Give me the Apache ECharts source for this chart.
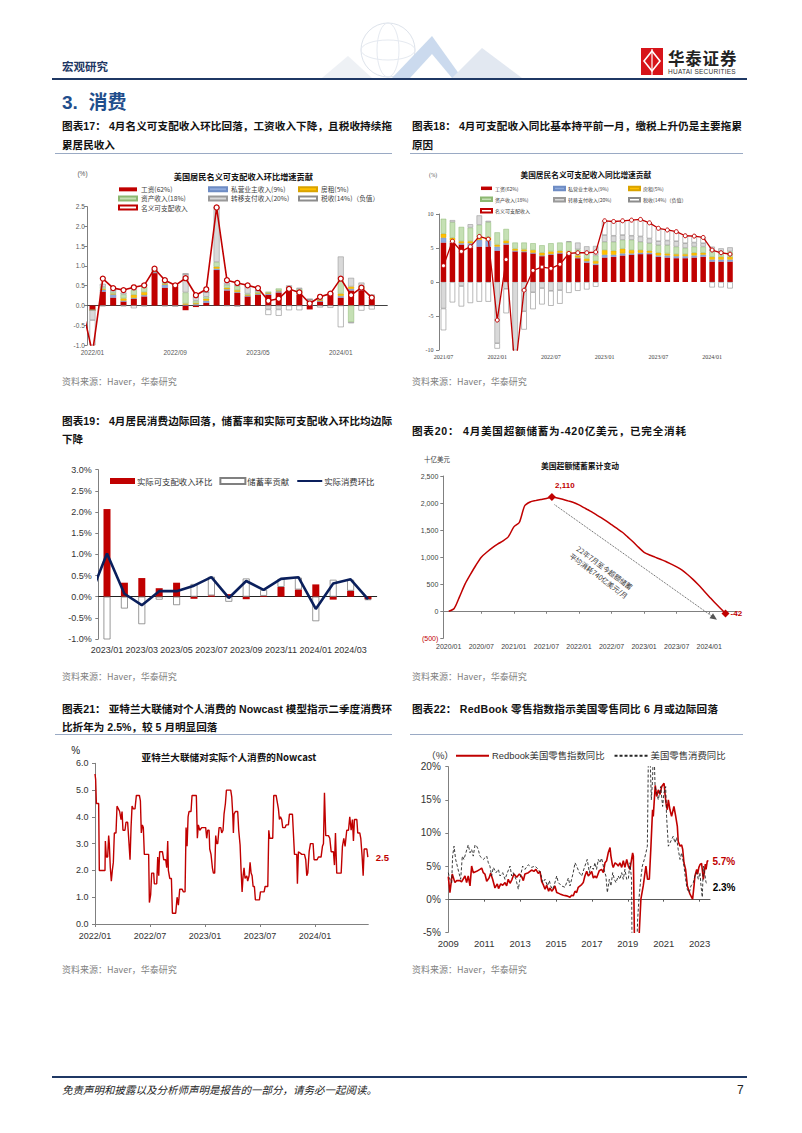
<!DOCTYPE html>
<html lang="zh-CN">
<head>
<meta charset="utf-8">
<title>消费</title>
<script src="https://cdn.jsdelivr.net/npm/echarts@6.0.0/dist/echarts.min.js"></script>
<style>
html,body{margin:0;padding:0;background:#fff;}
#page{position:relative;width:802px;height:1133px;overflow:hidden;background:#fff;}
#chart{position:absolute;left:0;top:0;width:802px;height:1133px;}
.tx{position:absolute;white-space:nowrap;transform:translateY(-50%);line-height:1.25;font-family:"Liberation Sans","Noto Sans CJK SC",sans-serif;}
.cap{font-size:10.6px;font-weight:700;color:#111;}
.src{font-size:9px;color:#7f7f7f;font-family:"Noto Sans CJK SC",sans-serif;}
.rule{position:absolute;height:0;border-top:1px solid #9AAAC4;}
</style>
</head>
<body>
<div id="page">
  <svg style="position:absolute;left:0;top:0" width="802" height="90">
    <g opacity="0.6">
      <circle cx="388" cy="50" r="27" fill="none" stroke="#c8d1de" stroke-width="1"/>
      <ellipse cx="388" cy="50" rx="27" ry="10" fill="none" stroke="#d6dde8"/>
      <ellipse cx="388" cy="50" rx="11" ry="27" fill="none" stroke="#d6dde8"/>
      <polygon points="322,78 348,56 372,78" fill="#e3e8f0"/>
      <polygon points="392,78 432,36 462,78" fill="#a9c3e3"/>
      <polygon points="410,78 432,54 452,78" fill="#ffffff"/>
      <polygon points="452,78 482,48 522,78" fill="#cfd9e8"/>
    </g>
    <rect x="641" y="48" width="22" height="27" fill="#d7141a"/>
    <polygon points="652,51 660,61 652,71 644,61" fill="none" stroke="#fff" stroke-width="1.6"/>
    <line x1="652" y1="49" x2="652" y2="75" stroke="#fff" stroke-width="1.2"/>
  </svg>
  <div class="tx" style="left:62px;top:66px;font-size:11.5px;font-weight:700;color:#1F3864;font-family:'Noto Sans CJK SC',sans-serif;">宏观研究</div>
  <div class="tx" style="left:668px;top:57.5px;font-size:16.5px;line-height:1;font-weight:700;color:#222;letter-spacing:0.8px;font-family:'Noto Sans CJK SC',sans-serif;">华泰证券</div>
  <div class="tx" style="left:668px;top:71.5px;font-size:6.5px;line-height:1;color:#333;letter-spacing:0.25px;">HUATAI SECURITIES</div>
  <div style="position:absolute;left:52px;top:78px;width:695px;height:2px;background:#1F3864;"></div>
  <div class="tx" style="left:62px;top:103px;font-size:19px;font-weight:700;color:#1F4E8C;">3.&nbsp; 消费</div>

  <div class="tx cap" data-fit="330" style="left:62px;top:127px;">图表17： 4月名义可支配收入环比回落，工资收入下降，且税收持续拖</div>
  <div class="tx cap" style="left:62px;top:146px;">累居民收入</div>
  <div class="tx cap" data-fit="330" style="left:412px;top:127px;">图表18： 4月可支配收入同比基本持平前一月，缴税上升仍是主要拖累</div>
  <div class="tx cap" style="left:412px;top:146px;">原因</div>
  <div class="rule" style="left:55px;top:153px;width:337px;"></div>
  <div class="rule" style="left:410px;top:153px;width:333px;"></div>
  <div class="tx src" style="left:62px;top:382px;">资料来源：Haver，华泰研究</div>
  <div class="tx src" style="left:412px;top:382px;">资料来源：Haver，华泰研究</div>

  <div class="tx cap" data-fit="330" style="left:62px;top:422px;">图表19： 4月居民消费边际回落，储蓄率和实际可支配收入环比均边际</div>
  <div class="tx cap" style="left:62px;top:440px;">下降</div>
  <div class="tx cap" data-fit="274" style="left:412px;top:432px;">图表20： 4月美国超额储蓄为-420亿美元，已完全消耗</div>
  <div class="tx src" style="left:62px;top:677px;">资料来源：Haver，华泰研究</div>
  <div class="tx src" style="left:412px;top:677px;">资料来源：Haver，华泰研究</div>

  <div class="tx cap" data-fit="330" style="left:62px;top:710px;">图表21： 亚特兰大联储对个人消费的 Nowcast 模型指示二季度消费环</div>
  <div class="tx cap" style="left:62px;top:728px;">比折年为 2.5%，较 5 月明显回落</div>
  <div class="tx cap" data-fit="306" style="left:412px;top:710px;">图表22： RedBook 零售指数指示美国零售同比 6 月或边际回落</div>
  <div class="rule" style="left:55px;top:734px;width:337px;"></div>
  <div class="rule" style="left:410px;top:734px;width:333px;"></div>
  <div class="tx src" style="left:62px;top:970px;">资料来源：Haver，华泰研究</div>
  <div class="tx src" style="left:412px;top:970px;">资料来源：Haver，华泰研究</div>

  <div style="position:absolute;left:52px;top:1076px;width:695px;height:2px;background:#1F3864;"></div>
  <div class="tx" style="left:62px;top:1090px;font-size:10.5px;font-style:italic;color:#222;font-family:'Noto Sans CJK SC',sans-serif;">免责声明和披露以及分析师声明是报告的一部分，请务必一起阅读。</div>
  <div class="tx" style="left:737px;top:1090px;font-size:12px;color:#222;">7</div>

  <div id="chart"></div>
</div>
<script>
// ---------------- DATA ----------------
// Chart 17: monthly contributions to m/m nominal disposable income growth (%)
const cats17 = ['2022/01','2022/02','2022/03','2022/04','2022/05','2022/06','2022/07','2022/08','2022/09','2022/10','2022/11','2022/12','2023/01','2023/02','2023/03','2023/04','2023/05','2023/06','2023/07','2023/08','2023/09','2023/10','2023/11','2023/12','2024/01','2024/02','2024/03','2024/04',''];
const wage17     = [-0.12,0.35,0.20,0.10,0.17,0.23,0.82,0.45,0.48,-0.12,-0.04,0.07,0.90,0.38,0.32,0.23,0.27,0.27,0.33,0.38,0.27,-0.10,0.10,0.27,0.20,0.38,0.38,0.16];
const biz17      = [0.00,0.05,0.08,0.02,0.02,0.03,0.03,0.08,0.01,0.02,0.03,0.05,0.03,0.03,0.02,0.02,0.02,0.03,0.03,0.03,0.03,0.02,0.02,0.01,0.04,0.04,0.03,0.02];
const rent17     = [0.00,0.02,0.02,0.06,0.08,0.08,0.01,0.02,0.01,0.03,0.03,0.05,0.05,0.04,0.05,0.02,0.02,0.02,0.02,0.02,0.02,0.02,0.02,0.01,0.06,0.06,0.04,0.02];
const asset17    = [0.00,0.05,0.04,0.10,0.12,0.14,0.02,0.03,0.01,0.28,0.06,0.05,0.12,0.07,0.10,0.03,0.03,0.03,0.05,0.04,0.10,0.06,0.03,0.02,0.38,-0.42,0.05,0.03];
const transfer17 = [-0.25,0.08,0.05,0.05,0.10,0.07,0.02,0.03,0.01,0.47,0.10,0.12,1.38,0.06,0.04,0.20,0.04,-0.10,-0.10,0.04,0.03,0.06,0.02,0.01,0.56,0.22,0.08,0.05];
const tax17      = [-1.30,-0.02,0.00,-0.02,-0.07,-0.02,0.00,-0.02,-0.03,0.00,0.00,0.00,0.00,-0.01,-0.03,0.00,0.00,-0.14,-0.16,-0.12,-0.12,0.00,-0.05,-0.06,-0.55,-0.03,-0.13,-0.10];
const income17   = [-1.20,0.68,0.44,0.39,0.46,0.51,0.93,0.64,0.51,0.69,0.26,0.41,2.48,0.64,0.57,0.51,0.44,0.12,0.17,0.42,0.33,0.05,0.22,0.30,0.68,0.26,0.45,0.20];
const income17Dec2021 = -0.04;

// Chart 18: contributions to y/y nominal disposable income growth (%)
const cats18 = ['2021/07','2021/08','2021/09','2021/10','2021/11','2021/12','2022/01','2022/02','2022/03','2022/04','2022/05','2022/06','2022/07','2022/08','2022/09','2022/10','2022/11','2022/12','2023/01','2023/02','2023/03','2023/04','2023/05','2023/06','2023/07','2023/08','2023/09','2023/10','2023/11','2023/12','2024/01','2024/02','2024/03'];
const wage18     = [5.8,5.8,5.5,5.1,5.2,5.2,4.6,5.5,4.5,4.4,4.2,3.8,4.0,4.2,4.1,3.5,2.85,2.5,3.6,3.7,3.9,4.0,4.1,4.1,3.7,3.6,3.5,3.5,3.6,3.7,3.0,3.0,3.0];
const biz18      = [0.7,0.3,0.2,0.6,1.0,0.9,0.6,0.2,0.1,0.1,0.1,0.1,0.1,0.1,0.1,0.1,0.2,0.2,0.4,0.3,0.3,0.2,0.2,0.2,0.2,0.3,0.3,0.3,0.3,0.3,0.3,0.3,0.3];
const rent18     = [0.6,0.4,0.3,0.3,0.3,0.5,0.3,0.4,0.3,0.3,0.4,0.4,0.4,0.3,0.3,0.3,0.4,0.4,0.7,0.6,0.7,0.5,0.4,0.3,0.4,0.3,0.3,0.3,0.4,0.3,0.4,0.4,0.4];
const asset18    = [2.2,2.3,2.1,2.0,1.9,2.2,1.8,1.7,0.9,1.0,1.0,1.1,1.2,1.2,1.4,0.9,0.8,0.8,1.2,1.3,1.3,1.5,1.2,1.1,1.1,1.2,1.1,0.9,0.9,0.9,0.8,0.8,0.8];
const transfer18 = [-3.9,0.3,-0.6,0.5,1.4,0.2,-9.0,-1.0,-17.0,-4.3,-1.5,-0.9,-1.3,-1.2,0.1,1.0,1.0,1.4,1.0,0.9,0.7,0.6,0.8,0.7,0.6,0.7,0.8,0.7,0.6,0.5,0.7,0.45,0.6];
const tax18      = [-3.2,-3.0,-3.0,-3.1,-2.9,-2.9,-0.8,-3.6,-1.8,-2.7,-2.5,-2.4,-2.2,-2.0,-1.6,-1.3,-1.1,-0.7,2.1,2.1,2.1,2.3,2.5,2.3,1.9,1.55,1.4,1.1,0.95,0.85,-0.8,-0.8,-0.95];
const income18   = [2.4,6.0,4.5,5.2,6.7,6.3,-5.6,3.3,-13.0,-1.2,1.7,2.2,2.0,2.6,4.2,4.3,4.3,4.4,9.0,8.9,9.0,9.1,9.2,8.7,7.9,7.65,7.4,6.8,6.75,6.55,4.7,4.3,4.1];

// Chart 19: real income, saving-rate contribution, real consumption (m/m %)
const cats19 = ['2023/01','2023/02','2023/03','2023/04','2023/05','2023/06','2023/07','2023/08','2023/09','2023/10','2023/11','2023/12','2024/01','2024/02','2024/03','2024/04'];
const income19  = [2.07,0.33,0.44,0.20,0.33,-0.05,0.03,0.06,-0.06,0.02,0.23,0.17,0.29,-0.07,0.14,-0.06];
const saving19  = [-1.05,-0.28,-0.65,-0.07,-0.20,0.30,0.44,-0.12,0.43,0.14,0.19,0.28,-0.58,0.40,0.26,-0.02];
const consume19 = [1.02,0.07,-0.20,0.13,0.13,0.26,0.46,-0.03,0.37,0.16,0.42,0.46,-0.29,0.31,0.41,-0.06];
const consume19Dec2022 = -0.02;

// Chart 20: cumulative excess savings, $bn, monthly 2020/01 .. 2024/04
const labels20 = ['2020/01','2020/07','2021/01','2021/07','2022/01','2022/07','2023/01','2023/07','2024/01'];
const values20 = [0,50,270,500,680,850,1000,1090,1170,1240,1300,1380,1560,1640,1950,2020,2045,2065,2085,2110,
  2095,2070,2040,2010,1965,1910,1855,1795,1735,1670,1600,1530,1460,1370,1280,1180,1090,1040,1000,960,
  920,870,820,760,680,590,490,380,270,160,60,-42];
const arrowFrom20 = [19.5, 1970], arrowTo20 = [48.9, -120];

// Chart 21: Atlanta Fed nowcast of real PCE, [months since 2022/01, %]
const labels21 = ['2022/01','2022/07','2023/01','2023/07','2024/01'];
const nowcast21 = [[0,5.6],[0.07,5.4],[0.15,4.5],[0.40,4.5],[0.47,2.0],[1.09,2.0],[1.13,3.1],[1.24,2.5],[1.38,2.5],[1.49,3.3],
 [1.56,3.0],[1.67,2.1],[1.78,1.6],[1.89,2.0],[2.00,2.3],[2.11,3.4],[2.29,3.4],[2.40,4.4],[2.55,4.3],[2.69,4.2],
 [2.84,3.9],[2.95,4.2],[3.05,3.5],[3.27,3.5],[3.38,3.8],[3.56,3.8],[3.71,3.0],[3.82,2.4],[3.93,3.6],[4.04,4.4],
 [4.18,4.3],[4.36,4.3],[4.51,4.8],[4.84,4.8],[4.95,4.6],[5.05,3.4],[5.16,3.7],[5.27,3.6],[5.38,2.6],[5.85,2.6],
 [5.93,0.8],[6.07,1.1],[6.18,1.9],[6.40,1.9],[6.47,1.5],[6.73,1.5],[6.84,2.5],[6.95,1.8],[7.05,2.7],[7.35,2.7],
 [7.49,2.4],[7.71,2.4],[7.82,2.1],[7.93,3.1],[8.00,2.0],[8.15,1.7],[8.33,1.7],[8.44,0.4],[8.80,0.4],[8.95,1.0],
 [9.09,0.7],[9.24,1.3],[9.49,1.3],[9.64,1.2],[9.82,1.2],[9.93,3.6],[10.04,2.9],[10.15,4.0],[10.25,4.2],[10.47,4.2],
 [10.58,4.8],[11.05,4.8],[11.16,3.2],[11.27,3.7],[11.42,3.5],[11.64,3.6],[12.07,3.6],[12.18,3.2],[12.29,3.5],[12.44,3.5],
 [12.51,2.8],[12.65,2.6],[12.80,2.1],[12.91,1.9],[13.05,1.9],[13.16,3.3],[13.27,3.0],[13.38,3.0],[13.53,3.6],[13.71,3.6],
 [13.82,3.4],[13.96,3.5],[14.07,4.1],[14.22,4.5],[14.33,5.0],[14.80,5.0],[14.91,4.75],[15.02,4.1],[15.09,3.4],[15.16,4.1],
 [15.31,4.2],[15.56,4.2],[15.67,3.5],[15.82,2.95],[15.93,2.0],[16.04,1.2],[16.15,1.8],[16.25,2.1],[16.36,1.7],[16.55,1.8],
 [16.65,1.6],[16.80,1.8],[16.91,2.3],[17.02,1.9],[17.13,1.8],[17.24,1.4],[17.38,1.4],[17.49,0.9],[17.93,0.9],[18.04,1.2],
 [18.44,1.2],[18.55,1.4],[18.84,1.4],[18.95,3.5],[19.05,3.2],[19.38,3.2],[19.49,4.8],[19.75,4.8],[19.85,4.6],[20.00,4.3],
 [20.11,3.9],[20.22,4.0],[20.36,3.9],[20.47,3.6],[20.73,3.6],[20.84,3.7],[21.09,3.7],[21.20,4.1],[21.53,4.1],[21.75,2.6],
 [22.00,2.6],[22.07,1.5],[22.18,2.7],[22.55,2.6],[22.84,2.6],[22.98,2.4],[23.09,1.8],[23.20,1.9],[23.35,2.7],[23.49,3.0],
 [23.78,3.0],[23.89,2.4],[24.22,2.4],[24.36,2.5],[24.65,2.5],[24.80,2.9],[24.91,3.0],[25.02,4.9],[25.16,3.3],[25.45,3.3],
 [25.60,3.2],[25.75,2.7],[26.00,2.7],[26.11,2.2],[26.22,3.4],[26.36,1.9],[26.84,1.9],[26.98,2.9],[27.13,3.2],[27.27,2.9],
 [27.45,3.5],[27.64,3.5],[27.78,4.0],[27.93,3.5],[28.07,3.9],[28.18,3.1],[28.29,3.9],[28.55,3.9],[28.65,3.4],[28.87,3.4],
 [28.98,3.2],[29.13,2.5],[29.24,1.8],[29.35,2.8],[29.64,2.8],[29.75,2.5]];

// Chart 22: [years since 2009, % y/y]
const labels22 = ['2009','2011','2013','2015','2017','2019','2021','2023'];
const redbook22 = [[0,3.4],[0.09,1.0],[0.22,3.8],[0.37,2.5],[0.46,2.8],[0.65,2.8],[0.74,2.6],[0.93,3.5],[1.02,2.5],[1.11,3.5],
 [1.21,2.0],[1.3,5.0],[1.39,4.0],[1.58,4.2],[1.76,4.5],[1.86,4.7],[1.95,4.0],[2.04,3.8],[2.14,2.7],[2.27,3.2],
 [2.36,3.9],[2.47,3.0],[2.6,1.7],[2.73,2.3],[2.8,1.6],[2.92,2.3],[3.03,2.1],[3.16,2.5],[3.25,2.0],[3.34,3.0],
 [3.44,2.4],[3.55,3.0],[3.66,3.8],[3.81,3.3],[3.96,3.8],[4.09,3.4],[4.18,2.8],[4.27,3.8],[4.46,4.0],[4.64,4.4],
 [4.77,4.2],[4.88,4.5],[5.01,3.9],[5.11,4.2],[5.2,2.7],[5.29,2.2],[5.39,1.5],[5.48,2.1],[5.59,1.2],[5.66,1.7],
 [5.76,1.2],[5.85,1.5],[5.94,2.0],[6.04,1.0],[6.22,0.8],[6.41,0.6],[6.59,0.5],[6.78,0.3],[6.87,0.6],[6.96,0.5],
 [7.06,1.2],[7.15,1.0],[7.24,1.8],[7.43,2.2],[7.52,2.5],[7.61,3.5],[7.71,4.2],[7.8,3.5],[7.89,3.8],[7.99,4.2],
 [8.08,3.2],[8.17,3.5],[8.26,3.2],[8.41,4.3],[8.54,4.5],[8.64,4.0],[8.73,5.5],[8.82,5.8],[8.91,7.0],[9.01,7.8],
 [9.06,6.5],[9.14,5.2],[9.19,4.8],[9.29,5.5],[9.38,5.3],[9.47,5.0],[9.56,5.5],[9.66,4.8],[9.75,5.8],[9.84,4.8],
 [9.94,6.0],[10.03,5.0],[10.12,4.5],[10.27,7.0],[10.31,6.5],[10.38,-8],[10.6,-8],[10.64,-5],[10.73,0],[10.86,2.0],
 [10.96,4.0],[11.01,5.0],[11.1,3.0],[11.2,3.0],[11.29,8.0],[11.38,13.5],[11.42,12.5],[11.53,17.2],[11.61,15.5],[11.7,16.5],
 [11.79,15.8],[11.89,17.0],[12.02,17.5],[12.07,16.0],[12.13,14.5],[12.2,13.5],[12.26,15.0],[12.35,13.5],[12.44,12.5],[12.57,14.0],
 [12.67,12.5],[12.76,11.0],[12.81,8.7],[12.91,8.0],[13.0,8.2],[13.06,7.5],[13.13,5.5],[13.22,4.5],[13.32,2.0],[13.41,1.2],
 [13.46,0.8],[13.61,0.0],[13.69,2.0],[13.74,3.5],[13.84,4.5],[13.89,3.8],[13.96,4.8],[14.02,5.2],[14.11,5.4],[14.21,3.0],
 [14.26,4.0],[14.32,5.3],[14.36,4.5],[14.43,5.8],[14.49,5.7]];
const retail22 = [[0,4.0],[0.09,3.0],[0.19,2.5],[0.24,6.5],[0.32,8.0],[0.41,6.0],[0.5,5.0],[0.59,4.0],[0.69,3.0],[0.78,6.5],
 [0.87,6.0],[0.98,7.0],[1.11,8.2],[1.21,7.0],[1.3,7.5],[1.39,6.5],[1.49,8.2],[1.58,8.0],[1.67,7.5],[1.76,6.5],
 [1.95,6.0],[2.14,6.5],[2.23,5.5],[2.32,5.0],[2.41,3.5],[2.51,4.8],[2.66,4.0],[2.79,4.5],[2.88,3.5],[3.03,4.0],
 [3.16,3.0],[3.29,4.0],[3.44,5.0],[3.53,3.5],[3.62,4.0],[3.77,3.0],[3.9,1.5],[3.99,3.0],[4.14,5.0],[4.27,4.5],
 [4.46,5.2],[4.64,4.8],[4.83,5.0],[5.01,4.5],[5.14,4.0],[5.26,2.5],[5.39,3.0],[5.52,2.0],[5.63,2.8],[5.7,2.0],
 [5.81,1.5],[5.89,2.0],[6.04,3.5],[6.13,2.5],[6.31,2.0],[6.5,1.8],[6.59,2.5],[6.69,3.2],[6.78,2.0],[6.87,3.0],
 [6.96,4.0],[7.06,5.5],[7.15,5.0],[7.3,4.0],[7.43,3.5],[7.61,5.0],[7.74,6.0],[7.86,4.0],[7.93,5.0],[8.08,4.5],
 [8.17,5.5],[8.26,4.5],[8.36,6.0],[8.45,5.5],[8.54,6.2],[8.6,5.5],[8.67,4.5],[8.78,3.5],[8.86,1.0],[8.97,3.0],
 [9.06,2.0],[9.16,4.0],[9.25,3.0],[9.34,2.5],[9.47,3.5],[9.56,3.0],[9.66,4.0],[9.75,3.0],[9.84,4.5],[9.94,3.0],
 [10.03,3.0],[10.12,5.5],[10.21,3.0],[10.27,-20],[10.49,-8],[10.55,-3],[10.62,0],[10.72,3.0],[10.81,5.0],[10.92,6.0],
 [11.01,7.0],[11.09,8.0],[11.16,25],[11.24,22],[11.31,15],[11.38,18],[11.44,25],[11.52,17],[11.61,16],[11.7,15],
 [11.83,17],[11.94,14],[12.01,16],[12.11,17],[12.16,12.5],[12.26,8.0],[12.35,8.5],[12.44,9.0],[12.53,9.5],[12.63,8.5],
 [12.72,9.3],[12.81,7.5],[12.91,6.0],[13.0,7.0],[13.13,5.0],[13.22,3.0],[13.31,1.5],[13.43,1.0],[13.52,2.0],[13.65,2.5],
 [13.74,3.5],[13.83,4.0],[13.93,3.0],[14.02,4.0],[14.08,2.0],[14.15,0.3],[14.21,5.0],[14.28,4.0],[14.36,2.5],[14.45,2.3]];

// ---------------- RENDER ----------------
const SANS = '"Liberation Sans", Arial, sans-serif';
const CJK = '"Noto Sans CJK SC", sans-serif';
const SERIF = '"Liberation Serif", "Times New Roman", serif';
const RED = '#C00000';

const compNames = ['工资(62%)','私营业主收入(9%)','房租(5%)','资产收入(18%)','转移支付收入(20%)','税收(14%)（负值）'];
const compStyle = [
  {color:RED},
  {color:'#8FAADC', borderColor:'#6E8CC4', borderWidth:0.5},
  {color:'#FFC000', borderColor:'#D9A300', borderWidth:0.5},
  {color:'#C5E0B4', borderColor:'#8DB872', borderWidth:0.5},
  {color:'#D9D9D9', borderColor:'#9A9A9A', borderWidth:0.6},
  {color:'#FFFFFF', borderColor:'#8C8C8C', borderWidth:0.6}
];
const comp17 = [wage17, biz17, rent17, asset17, transfer17, tax17];
const comp18 = [wage18, biz18, rent18, asset18, transfer18, tax18];

function fmtK(v){ return Math.abs(v).toString().replace(/\B(?=(\d{3})+(?!\d))/g, ','); }

function yAx(grid, min, max, interval, fmt, size, font, color, margin, lineColor){
  return {gridIndex:grid, type:'value', min:min, max:max, interval:interval,
    axisLine:{show:true, onZero:false, lineStyle:{color:lineColor, width:1}},
    axisTick:{show:true, length:3, lineStyle:{color:lineColor}},
    axisLabel:{formatter:fmt, fontSize:size, fontFamily:font, color:color, margin:margin},
    splitLine:{show:false}};
}
function T(x, y, text, size, weight, font, color){
  return {type:'text', x:x, y:y, silent:true,
    style:{text:text, fontSize:size, fontWeight:weight, fontFamily:font, fill:color, align:'center', verticalAlign:'middle'}};
}

const series = [];
// chart 17 bars
comp17.forEach((arr, k) => series.push({type:'bar', name:compNames[k], xAxisIndex:0, yAxisIndex:0, stack:'c17',
  barWidth:6, data:arr, itemStyle:compStyle[k]}));
series.push({type:'line', name:'名义可支配收入', xAxisIndex:1, yAxisIndex:0,
  data:[[-1, income17Dec2021]].concat(income17.map((v,i)=>[i,v])),
  symbol:'circle', symbolSize:5, lineStyle:{color:RED, width:1.6},
  itemStyle:{color:'#fff', borderColor:RED, borderWidth:1.2}, z:5});
// chart 18 bars
comp18.forEach((arr, k) => series.push({type:'bar', name:compNames[k], xAxisIndex:2, yAxisIndex:1, stack:'c18',
  barWidth:5.5, data:arr, itemStyle:compStyle[k]}));
series.push({type:'line', name:'名义可支配收入', xAxisIndex:2, yAxisIndex:1, data:income18,
  symbol:'circle', symbolSize:4, showAllSymbol:true, lineStyle:{color:RED, width:1.3},
  itemStyle:{color:'#fff', borderColor:RED, borderWidth:1}, z:5});
// chart 19
series.push({type:'bar', name:'实际可支配收入环比', xAxisIndex:3, yAxisIndex:2, stack:'c19', barWidth:7,
  data:income19, itemStyle:{color:RED}});
series.push({type:'bar', name:'储蓄率贡献', xAxisIndex:3, yAxisIndex:2, stack:'c19', barWidth:7,
  data:saving19, itemStyle:{color:'#fff', borderColor:'#808080', borderWidth:0.8}});
series.push({type:'line', name:'实际消费环比', xAxisIndex:4, yAxisIndex:2,
  data:[[-1, consume19Dec2022]].concat(consume19.map((v,i)=>[i,v])),
  symbol:'none', lineStyle:{color:'#0A1F5C', width:2.6}, itemStyle:{color:'#0A1F5C'}, z:5});
// chart 20
const peak20 = values20.indexOf(Math.max.apply(null, values20));
const last20 = values20.length - 1;
series.push({type:'line', name:'超额储蓄', xAxisIndex:5, yAxisIndex:3,
  data:values20.map((v,i)=>[i,v]), smooth:0.25, symbol:'none', lineStyle:{color:RED, width:1.5},
  markPoint:{silent:true, symbol:'diamond', symbolSize:8, itemStyle:{color:RED},
    label:{show:true, color:RED, fontWeight:'bold', fontSize:8, fontFamily:SANS,
      formatter:p => (p.value < 0 ? '-' : '') + fmtK(p.value)},
    data:[
      {coord:[peak20, values20[peak20]], value:values20[peak20], label:{position:'top', offset:[13,1]}},
      {coord:[last20, values20[last20]], value:values20[last20], label:{position:'right', offset:[-4,0]}}
    ]},
  markLine:{silent:true, symbol:['none','triangle'], symbolSize:[6,7], label:{show:false},
    lineStyle:{color:'#555', type:'dotted', width:1},
    emphasis:{disabled:true},
    data:[[{coord:arrowFrom20}, {coord:arrowTo20, itemStyle:{color:'#111'}}]]}
});
// chart 21
series.push({type:'line', name:'Nowcast', xAxisIndex:7, yAxisIndex:4, data:nowcast21, symbol:'none',
  lineStyle:{color:RED, width:1.4},
  endLabel:{show:true, formatter:p => p.value[1].toFixed(1), color:RED, fontWeight:'bold', fontSize:9.5, fontFamily:SANS, distance:8}});
// chart 22
series.push({type:'line', name:'Redbook美国零售指数同比', xAxisIndex:8, yAxisIndex:5, data:redbook22, symbol:'none',
  lineStyle:{color:RED, width:1.6}, itemStyle:{color:RED},
  endLabel:{show:true, formatter:p => p.value[1].toFixed(1)+'%', color:RED, fontWeight:'bold', fontSize:10, fontFamily:SANS, distance:4}});
series.push({type:'line', name:'美国零售消费同比', xAxisIndex:8, yAxisIndex:5, data:retail22, symbol:'none',
  lineStyle:{color:'#262626', width:0.9, type:[3,2]}, itemStyle:{color:'#262626'},
  endLabel:{show:true, formatter:p => p.value[1].toFixed(1)+'%', color:'#000', fontWeight:'bold', fontSize:10, fontFamily:SANS, distance:5, offset:[0,4]}});

const legendBase = {orient:'vertical', padding:0, selectedMode:false, icon:'rect'};
const hideSym = {opacity:0};
const y20 = yAx(3, -500, 2500, 500, v => v < 0 ? '(' + fmtK(v) + ')' : fmtK(v), 7, SANS, '#404040', 5, '#808080');
y20.axisLabel.color = v => (Number(v) < 0 ? RED : '#404040');

const option = {
  animation:false,
  grid:[
    {left:87.3, top:206.7, width:300, height:138.3, outerBoundsMode:'none'},
    {left:439, top:214, width:295.5, height:136, outerBoundsMode:'none'},
    {left:98.3, top:469.7, width:278.4, height:169.3, outerBoundsMode:'none'},
    {left:443.3, top:476, width:294.7, height:162.3, outerBoundsMode:'none'},
    {left:95, top:763.3, width:273.3, height:160.7, outerBoundsMode:'none'},
    {left:448.3, top:766.7, width:261.7, height:165.6, outerBoundsMode:'none'}
  ],
  xAxis:[
    {gridIndex:0, type:'category', data:cats17, position:'bottom', axisLine:{show:false, onZero:false}, axisTick:{show:false},
      axisLabel:{interval:7, fontSize:6.5, fontFamily:SANS, color:'#595959', margin:3.5}, splitLine:{show:false}},
    {gridIndex:0, type:'value', min:-0.5, max:cats17.length-0.5, position:'top',
      axisLine:{show:true, onZero:true, lineStyle:{color:'#404040', width:1}}, axisTick:{show:false}, axisLabel:{show:false}, splitLine:{show:false}},
    {gridIndex:1, type:'category', data:cats18, axisLine:{show:false, onZero:false}, axisTick:{show:false},
      axisLabel:{interval:5, fontSize:6, fontFamily:SERIF, color:'#404040', margin:3.7}, splitLine:{show:false}},
    {gridIndex:2, type:'category', data:cats19, position:'bottom', axisLine:{show:false, onZero:false}, axisTick:{show:false},
      axisLabel:{interval:1, fontSize:9, fontFamily:SANS, color:'#333', margin:6.5}, splitLine:{show:false}},
    {gridIndex:2, type:'value', min:-0.5, max:cats19.length-0.5, position:'top',
      axisLine:{show:true, onZero:true, lineStyle:{color:'#222', width:1}}, axisTick:{show:false}, axisLabel:{show:false}, splitLine:{show:false}},
    {gridIndex:3, type:'value', min:-1, max:53.3, position:'bottom', axisLine:{show:false, onZero:false}, axisTick:{show:false},
      axisLabel:{customValues:[0,6,12,18,24,30,36,42,48], formatter:v => labels20[Math.round(v/6)] || '',
        fontSize:7, fontFamily:SANS, color:'#404040', margin:5}, splitLine:{show:false}},
    {gridIndex:3, type:'value', min:-1, max:53.3, position:'top',
      axisLine:{show:true, onZero:true, lineStyle:{color:'#808080', width:1}},
      axisTick:{show:true, inside:true, length:2.5, customValues:[6,12,18,24,30,36,42,48], lineStyle:{color:'#808080'}},
      axisLabel:{show:false}, splitLine:{show:false}},
    {gridIndex:4, type:'value', min:0, max:29.8, position:'bottom',
      axisLine:{show:true, onZero:false, lineStyle:{color:'#808080', width:1}},
      axisTick:{show:true, length:3, customValues:[0,6,12,18,24], lineStyle:{color:'#808080'}},
      axisLabel:{customValues:[0,6,12,18,24], formatter:v => labels21[Math.round(v/6)] || '',
        fontSize:9, fontFamily:SANS, color:'#333', margin:7}, splitLine:{show:false}},
    {gridIndex:5, type:'value', min:0, max:14.58, position:'bottom', axisLine:{show:false, onZero:false}, axisTick:{show:false},
      axisLabel:{customValues:[0,2,4,6,8,10,12,14], formatter:v => labels22[Math.round(v/2)] || '',
        fontSize:9.5, fontFamily:SANS, color:'#333', margin:6}, splitLine:{show:false}},
    {gridIndex:5, type:'value', min:0, max:14.58, position:'top',
      axisLine:{show:true, onZero:true, lineStyle:{color:'#595959', width:1}},
      axisTick:{show:true, inside:true, length:2.5, customValues:[2,4,6,8,10,12,14], lineStyle:{color:'#595959'}},
      axisLabel:{show:false}, splitLine:{show:false}}
  ],
  yAxis:[
    yAx(0, -1, 2.5, 0.5, v => v.toFixed(1), 6.5, SANS, '#595959', 2.5, '#7f7f7f'),
    yAx(1, -10, 10, 5, v => String(v), 6, SERIF, '#404040', 5.5, '#808080'),
    yAx(2, -1, 3, 0.5, v => v.toFixed(1) + '%', 9, SANS, '#333', 6.5, '#808080'),
    y20,
    yAx(4, 0, 6, 1, v => v.toFixed(1), 9, SANS, '#333', 6.5, '#808080'),
    yAx(5, -5, 20, 5, v => v + '%', 10, SANS, '#333', 7.5, '#808080')
  ],
  legend:[
    Object.assign({}, legendBase, {data:['工资(62%)','资产收入(18%)',{name:'名义可支配收入', icon:null}], left:118, top:186,
      itemWidth:18, itemHeight:4, itemGap:2.4, textStyle:{fontSize:6.7, fontFamily:CJK, color:'#404040', padding:[0,0,0,-1]}}),
    Object.assign({}, legendBase, {data:['私营业主收入(9%)','转移支付收入(20%)'], left:208, top:186,
      itemWidth:18, itemHeight:4, itemGap:2.4, textStyle:{fontSize:6.7, fontFamily:CJK, color:'#404040', padding:[0,0,0,-1]}}),
    Object.assign({}, legendBase, {data:['房租(5%)','税收(14%)（负值）'], left:298, top:186,
      itemWidth:18, itemHeight:4, itemGap:2.4, textStyle:{fontSize:6.7, fontFamily:CJK, color:'#404040', padding:[0,0,0,-1]}}),
    Object.assign({}, legendBase, {data:['工资(62%)','资产收入(18%)',{name:'名义可支配收入', icon:null}], left:480, top:185.8,
      itemWidth:11, itemHeight:3.5, itemGap:5.8, textStyle:{fontSize:5, fontFamily:CJK, color:'#404040', padding:[0,0,0,-2]}}),
    Object.assign({}, legendBase, {data:['私营业主收入(9%)','转移支付收入(20%)'], left:553, top:185.8,
      itemWidth:11, itemHeight:3.5, itemGap:5.8, textStyle:{fontSize:5, fontFamily:CJK, color:'#404040', padding:[0,0,0,-2]}}),
    Object.assign({}, legendBase, {data:['房租(5%)','税收(14%)（负值）'], left:628, top:185.8,
      itemWidth:11, itemHeight:3.5, itemGap:5.8, textStyle:{fontSize:5, fontFamily:CJK, color:'#404040', padding:[0,0,0,-2]}}),
    {orient:'horizontal', padding:0, selectedMode:false, left:110, top:476.8,
      data:[{name:'实际可支配收入环比', icon:'rect'},{name:'储蓄率贡献', icon:'rect'},{name:'实际消费环比', itemStyle:hideSym}],
      itemWidth:25, itemHeight:6, itemGap:7, textStyle:{fontSize:8.4, fontFamily:CJK, color:'#333', padding:[0,0,0,-3]}},
    {orient:'horizontal', padding:0, selectedMode:false, left:455, top:751,
      data:[{name:'Redbook美国零售指数同比', itemStyle:hideSym},{name:'美国零售消费同比', itemStyle:hideSym}],
      itemWidth:33, itemHeight:9, itemGap:9, textStyle:{fontSize:9.4, fontFamily:SANS + ',' + CJK, color:'#333', padding:[0,0,0,-2]}}
  ],
  graphic:[
    T(243.3, 176, '美国居民名义可支配收入环比增速贡献', 8.2, 'bold', CJK, '#111'),
    T(82.5, 173, '(%)', 6.5, 'normal', SANS, '#595959'),
    T(585.8, 174, '美国居民名义可支配收入同比增速贡献', 7.7, 'bold', CJK, '#111'),
    T(433, 175, '(%)', 5.5, 'normal', SERIF, '#595959'),
    T(580, 465, '美国超额储蓄累计变动', 7.8, 'bold', CJK, '#111'),
    T(437, 459.3, '十亿美元', 6.5, 'normal', CJK, '#404040'),
    {type:'text', x:601.7, y:571.7, rotation:-0.64, silent:true,
      style:{text:'22年7月至今超额储蓄\n平均消耗740亿美元/月', fontSize:7, fontFamily:CJK, fill:'#333', align:'center', verticalAlign:'middle', lineHeight:10}},
    T(229, 757, '亚特兰大联储对实际个人消费的Nowcast', 9.6, 'bold', CJK, '#111'),
    T(75.7, 750, '%', 10, 'normal', SANS, '#222'),
    T(440, 755, '（%）', 9.5, 'normal', CJK, '#333')
  ],
  series:series
};

const chart = echarts.init(document.getElementById('chart'), null, {renderer:'svg', width:802, height:1133});
chart.setOption(option);

function fitCaptions(){
  document.querySelectorAll('[data-fit]').forEach(el => {
    el.style.letterSpacing = '0px';
    const target = +el.dataset.fit;
    const w = el.getBoundingClientRect().width;
    const n = Array.from(el.textContent).length;
    if (n > 1) el.style.letterSpacing = ((target - w) / (n - 1)).toFixed(3) + 'px';
  });
}
fitCaptions();
if (document.fonts && document.fonts.ready) document.fonts.ready.then(fitCaptions);
</script>
</body>
</html>
